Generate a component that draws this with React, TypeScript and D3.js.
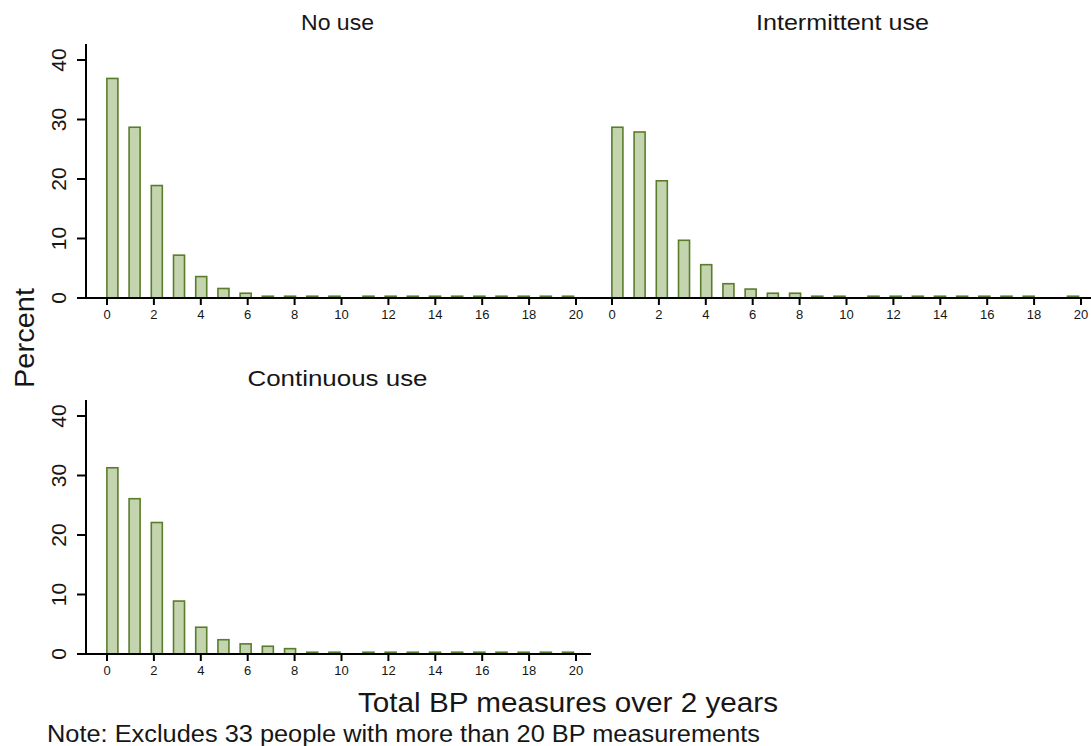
import React from 'react';
import * as d3 from 'd3';

// number of BP measures (bins) and the share of people in each, by statin use
const bins = d3.range(0, 21);
const xTicks = [0, 2, 4, 6, 8, 10, 12, 14, 16, 18, 20];
const yTicks = [0, 10, 20, 30, 40];

const noUse = [36.9, 28.7, 18.9, 7.2, 3.6, 1.6, 0.8, 0.3, 0.3, 0.3, 0.3, 0.3, 0.3, 0.3, 0.3, 0.3, 0.3, 0.3, 0.3, 0.3, 0.3];
const intermittentUse = [28.7, 27.9, 19.7, 9.7, 5.6, 2.4, 1.5, 0.8, 0.8, 0.3, 0.3, 0.3, 0.3, 0.3, 0.3, 0.3, 0.3, 0.3, 0.3, 0, 0.3];
const continuousUse = [31.3, 26.1, 22.1, 8.9, 4.5, 2.4, 1.7, 1.3, 0.9, 0.3, 0.3, 0.3, 0.3, 0.3, 0.3, 0.3, 0.3, 0.3, 0.3, 0.3, 0.3];

const W = 1091;
const H = 746;
const FILL = '#c3d4ae';
const EDGE = '#5a7d2c';
const INK = '#161616';
const FONT = '"Liberation Sans", Arial, Helvetica, sans-serif';

type PanelProps = {
  title: string;
  titleWidth: number;
  values: number[];
  left: number; // where the plot region starts (y axis line)
  base: number; // y pixel of the zero line
  showY: boolean;
};

function Panel({ title, titleWidth, values, left, base, showY }: PanelProps) {
  const x = d3.scaleLinear().domain([0, 20]).range([left + 21, left + 490]);
  const y = d3.scaleLinear().domain([0, 40]).range([base, base - 238]);
  // stata puts the bins slightly off the tick marks, with a jump after 10
  const binPos = d3.scaleLinear().domain([0, 10, 11, 20]).range([0.23, 9.7, 11.15, 19.66]);
  const barW = x(0.47) - x(0);

  return (
    <g>
      <text x={x(10) - 4} y={base - 276} textAnchor="middle" dominantBaseline="central"
        fontSize={22} fill={INK} textLength={titleWidth} lengthAdjust="spacingAndGlyphs">{title}</text>

      {bins.map((b, i) => {
        const v = values[i];
        if (!v) return null;
        const cx = x(binPos(b));
        return (
          <rect key={b} x={cx - barW / 2} y={y(v)} width={barW} height={Math.max(base - y(v), 0.5)}
            fill={FILL} stroke={EDGE} strokeWidth={1.6} />
        );
      })}

      {/* x axis */}
      <line x1={left} x2={left + 505} y1={base} y2={base} stroke="#000" strokeWidth={2} />
      {xTicks.map(t => (
        <g key={t}>
          <line x1={x(t)} x2={x(t)} y1={base} y2={base + 7} stroke="#000" strokeWidth={2} />
          <text x={x(t)} y={base + 16} textAnchor="middle" dominantBaseline="central"
            fontSize={13} fill={INK}>{t}</text>
        </g>
      ))}

      {/* y axis */}
      {showY && (
        <g>
          <line x1={left} x2={left} y1={base - 254} y2={base} stroke="#000" strokeWidth={2} />
          {yTicks.map(t => (
            <g key={t}>
              <line x1={left - 9} x2={left} y1={y(t)} y2={y(t)} stroke="#000" strokeWidth={2} />
              <text transform={`translate(${left - 28},${y(t)}) rotate(-90)`} textAnchor="middle"
                dominantBaseline="central" fontSize={21} fill={INK}>{t}</text>
            </g>
          ))}
        </g>
      )}
    </g>
  );
}

export default function App() {
  return (
    <svg width={W} height={H} viewBox={`0 0 ${W} ${H}`}
      style={{ position: 'absolute', left: 0, top: 0, background: '#fff' }} fontFamily={FONT}>
      <rect width={W} height={H} fill="#fff" />
      <Panel title="No use" titleWidth={73} values={noUse} left={86} base={298} showY={true} />
      <Panel title="Intermittent use" titleWidth={173} values={intermittentUse} left={591} base={298} showY={false} />
      <Panel title="Continuous use" titleWidth={180} values={continuousUse} left={86} base={654} showY={true} />

      <text transform="translate(25,338) rotate(-90)" textAnchor="middle" dominantBaseline="central"
        fontSize={27} fill={INK} textLength={100} lengthAdjust="spacingAndGlyphs">Percent</text>
      <text x={568} y={712} textAnchor="middle" fontSize={28} fill={INK}
        textLength={420} lengthAdjust="spacingAndGlyphs">Total BP measures over 2 years</text>
      <text x={47} y={742} fontSize={23} fill={INK}
        textLength={713} lengthAdjust="spacingAndGlyphs">Note: Excludes 33 people with more than 20 BP measurements</text>
    </svg>
  );
}
